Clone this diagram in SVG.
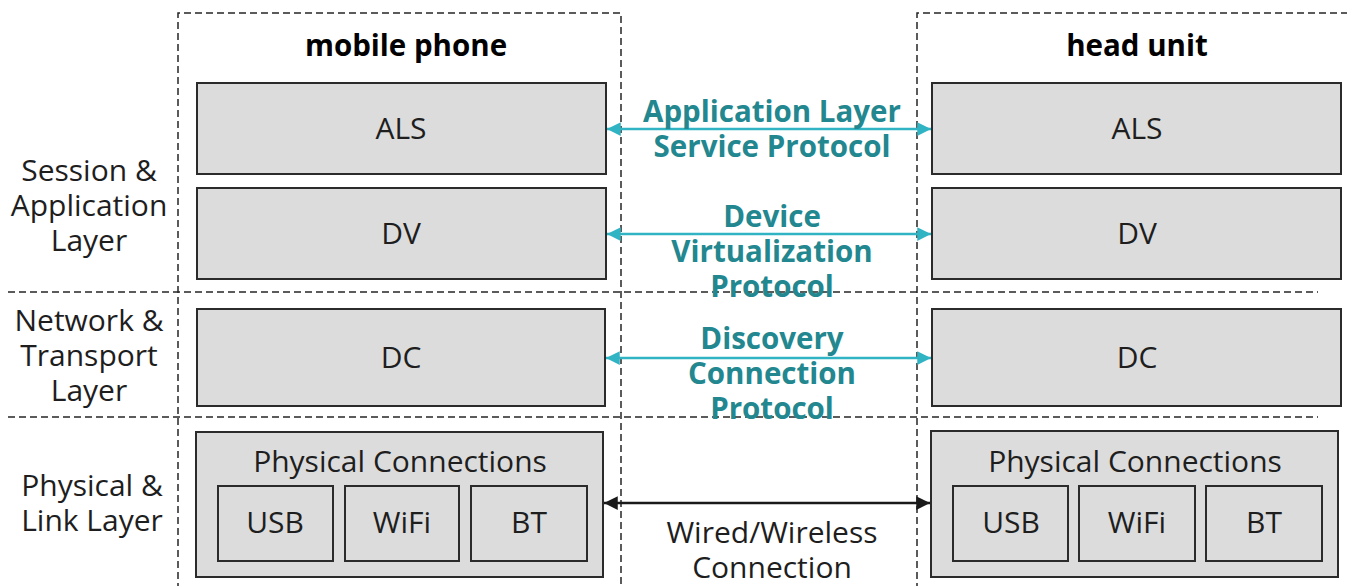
<svg xmlns="http://www.w3.org/2000/svg" width="1347" height="586" viewBox="0 0 1347 586">
<style>
.bg{fill:#ffffff}
.dash{fill:none;stroke:#262626;stroke-width:1.5;stroke-dasharray:7 4}
.box{fill:#dcdcdc;stroke:#2b2b2b;stroke-width:2}
.t{font-family:"Open Sans","Noto Sans",sans-serif;font-size:30px;fill:#1e1e1e;text-anchor:middle;dominant-baseline:central}
.h{font-weight:bold;fill:#000;font-size:29.5px}
.p{font-weight:bold;fill:#22878f;font-size:29.5px}
.teal{stroke:#30b4c4;stroke-width:2.5;fill:none}
.blk{stroke:#1a1a1a;stroke-width:2.5;fill:none}
</style>
<defs>
<marker id="at" viewBox="0 0 10 10" refX="10" refY="5" markerWidth="6.5" markerHeight="5.5" markerUnits="strokeWidth" orient="auto-start-reverse"><path d="M0,0 L10,5 L0,10 z" fill="#30b4c4"/></marker>
<marker id="ab" viewBox="0 0 10 10" refX="10" refY="5" markerWidth="6.5" markerHeight="5.5" markerUnits="strokeWidth" orient="auto-start-reverse"><path d="M0,0 L10,5 L0,10 z" fill="#1a1a1a"/></marker>
</defs>
<rect class="bg" x="0" y="0" width="1347" height="586"/>
<g id="frames">
<path class="dash" d="M178,590 V13 H621 V590"/>
<path class="dash" d="M917,590 V13 H1352"/>
<line class="dash" x1="8" y1="292" x2="1318" y2="292"/>
<line class="dash" x1="8" y1="417" x2="1318" y2="417"/>
</g>
<g id="layer-labels">
<text class="t" x="89" y="169">Session &amp;</text>
<text class="t" x="89" y="204">Application</text>
<text class="t" x="89" y="239">Layer</text>
<text class="t" x="89" y="319">Network &amp;</text>
<text class="t" x="89" y="354">Transport</text>
<text class="t" x="89" y="389">Layer</text>
<text class="t" x="92" y="484">Physical &amp;</text>
<text class="t" x="92" y="519">Link Layer</text>
</g>
<g id="mobile-phone">
<text class="t h" x="406" y="44">mobile phone</text>
<g id="m-als"><rect class="box" x="197" y="83" width="409" height="91"/><text class="t" x="401" y="127">ALS</text></g>
<g id="m-dv"><rect class="box" x="197" y="188" width="409" height="91"/><text class="t" x="401" y="232">DV</text></g>
<g id="m-dc"><rect class="box" x="197" y="309" width="408" height="97"/><text class="t" x="401" y="356">DC</text></g>
<g id="m-phys"><rect class="box" x="196" y="432" width="407" height="145"/><text class="t" x="400" y="460">Physical Connections</text>
<g id="m-usb"><rect class="box" x="218" y="486" width="115" height="75"/><text class="t" x="275" y="521">USB</text></g>
<g id="m-wifi"><rect class="box" x="345" y="486" width="114" height="75"/><text class="t" x="402" y="521">WiFi</text></g>
<g id="m-bt"><rect class="box" x="471" y="486" width="116" height="75"/><text class="t" x="529" y="521">BT</text></g>
</g>
</g>
<g id="head-unit">
<text class="t h" x="1137" y="44">head unit</text>
<g id="h-als"><rect class="box" x="932" y="83" width="409" height="91"/><text class="t" x="1137" y="127">ALS</text></g>
<g id="h-dv"><rect class="box" x="932" y="188" width="409" height="91"/><text class="t" x="1137" y="232">DV</text></g>
<g id="h-dc"><rect class="box" x="932" y="309" width="409" height="97"/><text class="t" x="1137" y="356">DC</text></g>
<g id="h-phys"><rect class="box" x="931" y="431" width="407" height="146"/><text class="t" x="1135" y="460">Physical Connections</text>
<g id="h-usb"><rect class="box" x="953" y="486" width="115" height="75"/><text class="t" x="1011" y="521">USB</text></g>
<g id="h-wifi"><rect class="box" x="1079" y="486" width="116" height="75"/><text class="t" x="1137" y="521">WiFi</text></g>
<g id="h-bt"><rect class="box" x="1206" y="486" width="116" height="75"/><text class="t" x="1264" y="521">BT</text></g>
</g>
</g>
<g id="connectors">
<line class="teal" x1="607" y1="129" x2="931" y2="129" marker-start="url(#at)" marker-end="url(#at)"/>
<line class="teal" x1="607" y1="234" x2="931" y2="234" marker-start="url(#at)" marker-end="url(#at)"/>
<line class="teal" x1="606" y1="358" x2="931" y2="358" marker-start="url(#at)" marker-end="url(#at)"/>
<line class="blk" x1="604" y1="503" x2="930" y2="503" marker-start="url(#ab)" marker-end="url(#ab)"/>
</g>
<g id="connector-labels">
<text class="t p" x="772" y="110">Application Layer</text>
<text class="t p" x="772" y="145">Service Protocol</text>
<text class="t p" x="772" y="215">Device</text>
<text class="t p" x="772" y="250">Virtualization</text>
<text class="t p" x="772" y="285">Protocol</text>
<text class="t p" x="772" y="337">Discovery</text>
<text class="t p" x="772" y="372">Connection</text>
<text class="t p" x="772" y="407">Protocol</text>
<text class="t" x="772" y="531">Wired/Wireless</text>
<text class="t" x="772" y="566">Connection</text>
</g>
</svg>
